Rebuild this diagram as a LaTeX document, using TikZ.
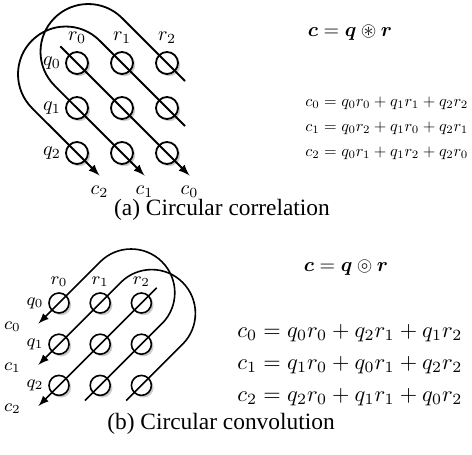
\RequirePackage{fix-cm}
\documentclass[tikz,border=0pt]{standalone}
\usepackage{amsmath,amssymb}
\usepackage{fontspec}
\newfontfamily\capfont{Liberation Serif}
\usepackage{tikz}
\usetikzlibrary{arrows, positioning, shadows}

\begin{document}
\begin{tikzpicture}[
    cell/.style={draw, circle, fill=white, inner sep=0pt, drop shadow={shadow xshift=1.1pt, shadow yshift=-1.1pt, opacity=0.4}},
    flow/.style={->, >=latex},
    lbl/.style={inner sep=0pt},
    eq/.style={inner sep=0pt, anchor=west, font=\fontsize{10}{12}\selectfont},
    headline/.style={inner sep=0pt, font=\fontsize{10}{12}\selectfont},
    captext/.style={inner sep=0pt, font=\capfont\fontsize{11.7}{14}\selectfont}
]
    \useasboundingbox (0,0) rectangle (236pt,-227.5pt);

    % (a) circular correlation
    \begin{scope}[shift={(38.5pt,-31.5pt)}, x=22.5pt, y=22.5pt, node distance=22.5pt, on grid,
        every node/.append style={font=\fontsize{10}{12}\selectfont}, line width=0.9pt,
        cell/.append style={minimum size=11pt}]
        \node (a00) [cell] at (0,0) {};
        \node (a01) [cell, right=of a00] {};
        \node (a02) [cell, right=of a01] {};
        \node (a10) [cell, below=of a00] {};
        \node (a11) [cell, right=of a10] {};
        \node (a12) [cell, right=of a11] {};
        \node (a20) [cell, below=of a10] {};
        \node (a21) [cell, right=of a20] {};
        \node (a22) [cell, right=of a21] {};

        \node (a-r0) [lbl, above=12.5pt of a00] {$r_0$};
        \node (a-r1) [lbl, above=12.5pt of a01] {$r_1$};
        \node (a-r2) [lbl, above=12.5pt of a02] {$r_2$};
        \node (a-q0) [lbl, left=12.5pt of a00] {$q_0$};
        \node (a-q1) [lbl, left=12.5pt of a10] {$q_1$};
        \node (a-q2) [lbl, left=12.5pt of a20] {$q_2$};

        \coordinate (a-m0) at (-0.37,0.37);
        \coordinate (a-m1) at (2.5,-2.5);
        \coordinate (a-o0) at (2.4,-0.4);
        \coordinate (a-o1) at (1,1);
        \coordinate (a-o2) at (1.5,-2.5);
        \coordinate (a-i0) at (2.4,-1.4);
        \coordinate (a-i1) at (0.5,0.5);
        \coordinate (a-i2) at (0.5,-2.5);

        \draw [flow] (a-m0) -- (a-m1);
        \draw [flow] (a-o0) -- (a-o1) arc[start angle=45, end angle=225, radius=23.87pt] -- (a-o2);
        \draw [flow] (a-i0) -- (a-i1) arc[start angle=45, end angle=225, radius=23.87pt] -- (a-i2);

        \node (a-c0) [lbl, below=8pt of a-m1, anchor=center] {$c_0$};
        \node (a-c1) [lbl, below=8pt of a-o2, anchor=center] {$c_1$};
        \node (a-c2) [lbl, below=8pt of a-i2, anchor=center] {$c_2$};
    \end{scope}

    \node (a-title) [headline] at (175pt,-16.5pt) {$\boldsymbol{c} = \boldsymbol{q} \circledast \boldsymbol{r}$};
    \node (a-eq0) [eq] at (152.5pt,-51.5pt) {\scalebox{0.81}{$c_0 = q_0 r_0 + q_1 r_1 + q_2 r_2$}};
    \node (a-eq1) [eq] at (152.5pt,-64pt) {\scalebox{0.81}{$c_1 = q_0 r_2 + q_1 r_0 + q_2 r_1$}};
    \node (a-eq2) [eq] at (152.5pt,-76.5pt) {\scalebox{0.81}{$c_2 = q_0 r_1 + q_1 r_2 + q_2 r_0$}};
    \node (a-cap) [captext] at (111pt,-105pt) {(a) Circular correlation};

    % (b) circular convolution
    \begin{scope}[shift={(29.5pt,-151.5pt)}, x=20.6pt, y=20.6pt, node distance=20.6pt, on grid,
        every node/.append style={font=\fontsize{8.8}{10.5}\selectfont}, line width=0.8pt,
        cell/.append style={minimum size=10pt}]
        \node (b00) [cell] at (0,0) {};
        \node (b01) [cell, right=of b00] {};
        \node (b02) [cell, right=of b01] {};
        \node (b10) [cell, below=of b00] {};
        \node (b11) [cell, right=of b10] {};
        \node (b12) [cell, right=of b11] {};
        \node (b20) [cell, below=of b10] {};
        \node (b21) [cell, right=of b20] {};
        \node (b22) [cell, right=of b21] {};

        \node (b-r0) [lbl, above=10.5pt of b00] {$r_0$};
        \node (b-r1) [lbl, above=10.5pt of b01] {$r_1$};
        \node (b-r2) [lbl, above=10.5pt of b02] {$r_2$};
        \node (b-q0) [lbl, left=12pt of b00] {$q_0$};
        \node (b-q1) [lbl, left=12pt of b10] {$q_1$};
        \node (b-q2) [lbl, left=12pt of b20] {$q_2$};

        \coordinate (b-m0) at (2.37,0.37);
        \coordinate (b-m1) at (-0.5,-2.5);
        \coordinate (b-o0) at (0.63,-2.37);
        \coordinate (b-o1) at (2.5,-0.5);
        \coordinate (b-o2) at (-0.5,-0.5);
        \coordinate (b-i0) at (1.63,-2.37);
        \coordinate (b-i1) at (3,-1);
        \coordinate (b-i2) at (-0.5,-1.5);

        \draw [flow] (b-m0) -- (b-m1);
        \draw [flow] (b-o0) -- (b-o1) arc[start angle=-45, end angle=135, radius=21.85pt] -- (b-o2);
        \draw [flow] (b-i0) -- (b-i1) arc[start angle=-45, end angle=135, radius=21.85pt] -- (b-i2);

        \node (b-c0) [lbl, left=13pt of b-o2, anchor=center, yshift=-1.5pt] {$c_0$};
        \node (b-c1) [lbl, left=13pt of b-i2, anchor=center, yshift=-1.5pt] {$c_1$};
        \node (b-c2) [lbl, left=13pt of b-m1, anchor=center, yshift=-1.5pt] {$c_2$};
    \end{scope}

    \node (b-title) [headline] at (173pt,-134pt) {$\boldsymbol{c} = \boldsymbol{q} \circledcirc \boldsymbol{r}$};
    \node (b-eq0) [eq] at (118.5pt,-166.5pt) {\scalebox{1.12}{$c_0 = q_0 r_0 + q_2 r_1 + q_1 r_2$}};
    \node (b-eq1) [eq] at (118.5pt,-182.5pt) {\scalebox{1.12}{$c_1 = q_1 r_0 + q_0 r_1 + q_2 r_2$}};
    \node (b-eq2) [eq] at (118.5pt,-198.5pt) {\scalebox{1.12}{$c_2 = q_2 r_0 + q_1 r_1 + q_0 r_2$}};
    \node (b-cap) [captext] at (110.5pt,-212pt) {(b) Circular convolution};
\end{tikzpicture}
\end{document}
